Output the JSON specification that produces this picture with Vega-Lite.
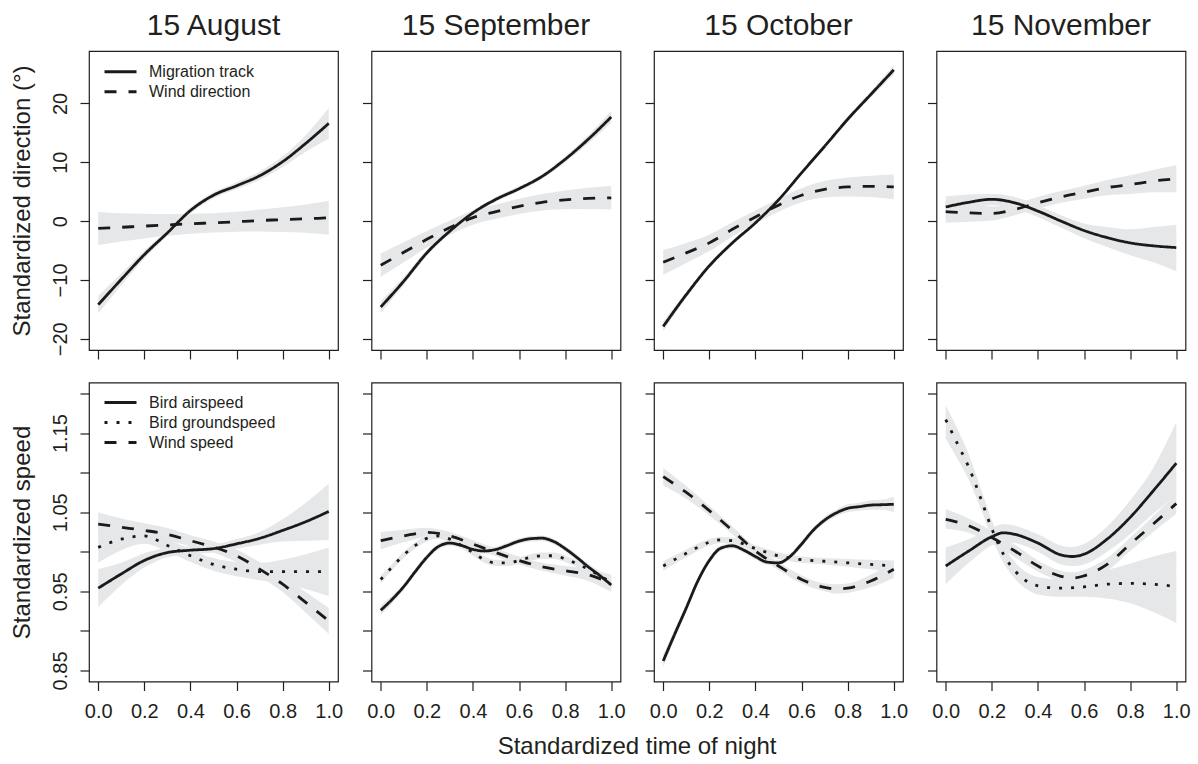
{
  "$schema": "https://vega.github.io/schema/vega-lite/v6.json",
  "padding": {"left": 9, "top": 10, "right": 5, "bottom": 5},
  "background": "white",
  "bounds": "flush",
  "columns": 4,
  "spacing": {"row": 32.5, "column": 33.5},
  "title": {"text": "Standardized time of night", "orient": "bottom", "anchor": "middle", "fontSize": 24, "fontWeight": "normal", "baseline": "alphabetic", "offset": 32, "dx": 37, "color": "#231f20"},
  "config": {
    "font": "Liberation Sans",
    "view": {"stroke": "#231f20", "strokeWidth": 1.2},
    "axis": {"domain": false, "grid": false, "tickSize": 9, "tickColor": "#231f20", "tickWidth": 1.2, "labelFontSize": 20, "labelColor": "#231f20", "titleFontSize": 24, "titleFontWeight": "normal", "titleColor": "#231f20", "labelFlush": false, "labelOverlap": false, "labelBound": false},
    "title": {"fontSize": 30, "fontWeight": "normal", "color": "#231f20"}
  },
  "resolve": {"scale": {"strokeDash": "independent", "x": "independent", "y": "independent"}, "legend": {"strokeDash": "independent"}},
  "datasets": {
    "dir": [
      {"p":"Aug","s":"Migration track","x":0,"y":-14.2,"lo":-15.7,"hi":-12.7},
      {"p":"Aug","s":"Migration track","x":0.1,"y":-9.9,"lo":-10.9,"hi":-8.9},
      {"p":"Aug","s":"Migration track","x":0.2,"y":-5.7,"lo":-6.4,"hi":-5.0},
      {"p":"Aug","s":"Migration track","x":0.3,"y":-2.0,"lo":-2.5,"hi":-1.5},
      {"p":"Aug","s":"Migration track","x":0.4,"y":1.8,"lo":1.3,"hi":2.3},
      {"p":"Aug","s":"Migration track","x":0.5,"y":4.4,"lo":3.9,"hi":4.9},
      {"p":"Aug","s":"Migration track","x":0.6,"y":6.0,"lo":5.4,"hi":6.6},
      {"p":"Aug","s":"Migration track","x":0.7,"y":7.7,"lo":7.0,"hi":8.4},
      {"p":"Aug","s":"Migration track","x":0.8,"y":10.1,"lo":9.2,"hi":11.0},
      {"p":"Aug","s":"Migration track","x":0.9,"y":13.2,"lo":11.8,"hi":14.6},
      {"p":"Aug","s":"Migration track","x":1.0,"y":16.6,"lo":14.0,"hi":19.2},
      {"p":"Aug","s":"Wind direction","x":0,"y":-1.25,"lo":-4.05,"hi":1.55},
      {"p":"Aug","s":"Wind direction","x":0.1,"y":-1.05,"lo":-3.45,"hi":1.35},
      {"p":"Aug","s":"Wind direction","x":0.2,"y":-0.85,"lo":-2.95,"hi":1.25},
      {"p":"Aug","s":"Wind direction","x":0.3,"y":-0.65,"lo":-2.5,"hi":1.2},
      {"p":"Aug","s":"Wind direction","x":0.4,"y":-0.45,"lo":-2.15,"hi":1.25},
      {"p":"Aug","s":"Wind direction","x":0.5,"y":-0.3,"lo":-1.95,"hi":1.35},
      {"p":"Aug","s":"Wind direction","x":0.6,"y":-0.1,"lo":-1.8,"hi":1.6},
      {"p":"Aug","s":"Wind direction","x":0.7,"y":0.1,"lo":-1.75,"hi":1.95},
      {"p":"Aug","s":"Wind direction","x":0.8,"y":0.25,"lo":-1.85,"hi":2.35},
      {"p":"Aug","s":"Wind direction","x":0.9,"y":0.4,"lo":-2.0,"hi":2.8},
      {"p":"Aug","s":"Wind direction","x":1.0,"y":0.55,"lo":-2.3,"hi":3.4},
      {"p":"Sep","s":"Migration track","x":0,"y":-14.6,"lo":-15.6,"hi":-13.6},
      {"p":"Sep","s":"Migration track","x":0.1,"y":-10.2,"lo":-10.9,"hi":-9.5},
      {"p":"Sep","s":"Migration track","x":0.2,"y":-5.4,"lo":-5.9,"hi":-4.9},
      {"p":"Sep","s":"Migration track","x":0.3,"y":-1.7,"lo":-2.1,"hi":-1.3},
      {"p":"Sep","s":"Migration track","x":0.4,"y":1.4,"lo":1.0,"hi":1.8},
      {"p":"Sep","s":"Migration track","x":0.5,"y":3.7,"lo":3.3,"hi":4.1},
      {"p":"Sep","s":"Migration track","x":0.6,"y":5.5,"lo":5.1,"hi":5.9},
      {"p":"Sep","s":"Migration track","x":0.7,"y":7.6,"lo":7.2,"hi":8.0},
      {"p":"Sep","s":"Migration track","x":0.8,"y":10.5,"lo":10.0,"hi":11.0},
      {"p":"Sep","s":"Migration track","x":0.9,"y":13.9,"lo":13.2,"hi":14.6},
      {"p":"Sep","s":"Migration track","x":1.0,"y":17.7,"lo":16.7,"hi":18.7},
      {"p":"Sep","s":"Wind direction","x":0,"y":-7.5,"lo":-9.5,"hi":-5.5},
      {"p":"Sep","s":"Wind direction","x":0.1,"y":-5.3,"lo":-7.0,"hi":-3.6},
      {"p":"Sep","s":"Wind direction","x":0.2,"y":-3.1,"lo":-4.5,"hi":-1.7},
      {"p":"Sep","s":"Wind direction","x":0.3,"y":-1.1,"lo":-2.3,"hi":0.1},
      {"p":"Sep","s":"Wind direction","x":0.4,"y":0.6,"lo":-0.6,"hi":1.8},
      {"p":"Sep","s":"Wind direction","x":0.5,"y":1.6,"lo":0.4,"hi":2.8},
      {"p":"Sep","s":"Wind direction","x":0.6,"y":2.5,"lo":1.2,"hi":3.8},
      {"p":"Sep","s":"Wind direction","x":0.7,"y":3.2,"lo":1.8,"hi":4.6},
      {"p":"Sep","s":"Wind direction","x":0.8,"y":3.6,"lo":2.0,"hi":5.2},
      {"p":"Sep","s":"Wind direction","x":0.9,"y":3.85,"lo":2.05,"hi":5.65},
      {"p":"Sep","s":"Wind direction","x":1.0,"y":3.95,"lo":1.95,"hi":5.95},
      {"p":"Oct","s":"Migration track","x":0,"y":-17.9,"lo":-18.7,"hi":-17.1},
      {"p":"Oct","s":"Migration track","x":0.1,"y":-12.5,"lo":-13.0,"hi":-12.0},
      {"p":"Oct","s":"Migration track","x":0.2,"y":-7.6,"lo":-8.0,"hi":-7.2},
      {"p":"Oct","s":"Migration track","x":0.3,"y":-3.7,"lo":-4.0,"hi":-3.4},
      {"p":"Oct","s":"Migration track","x":0.4,"y":-0.3,"lo":-0.6,"hi":0.0},
      {"p":"Oct","s":"Migration track","x":0.5,"y":3.6,"lo":3.3,"hi":3.9},
      {"p":"Oct","s":"Migration track","x":0.6,"y":8.2,"lo":7.9,"hi":8.5},
      {"p":"Oct","s":"Migration track","x":0.7,"y":12.7,"lo":12.4,"hi":13.0},
      {"p":"Oct","s":"Migration track","x":0.8,"y":17.3,"lo":16.9,"hi":17.7},
      {"p":"Oct","s":"Migration track","x":0.9,"y":21.5,"lo":21.0,"hi":22.0},
      {"p":"Oct","s":"Migration track","x":1.0,"y":25.7,"lo":24.9,"hi":26.5},
      {"p":"Oct","s":"Wind direction","x":0,"y":-7.0,"lo":-9.1,"hi":-4.9},
      {"p":"Oct","s":"Wind direction","x":0.1,"y":-5.4,"lo":-7.1,"hi":-3.7},
      {"p":"Oct","s":"Wind direction","x":0.2,"y":-3.7,"lo":-5.1,"hi":-2.3},
      {"p":"Oct","s":"Wind direction","x":0.3,"y":-1.4,"lo":-2.6,"hi":-0.2},
      {"p":"Oct","s":"Wind direction","x":0.4,"y":0.7,"lo":-0.4,"hi":1.8},
      {"p":"Oct","s":"Wind direction","x":0.5,"y":2.7,"lo":1.6,"hi":3.8},
      {"p":"Oct","s":"Wind direction","x":0.6,"y":4.4,"lo":3.2,"hi":5.6},
      {"p":"Oct","s":"Wind direction","x":0.7,"y":5.4,"lo":4.0,"hi":6.8},
      {"p":"Oct","s":"Wind direction","x":0.8,"y":5.8,"lo":4.2,"hi":7.4},
      {"p":"Oct","s":"Wind direction","x":0.9,"y":5.9,"lo":4.1,"hi":7.7},
      {"p":"Oct","s":"Wind direction","x":1.0,"y":5.8,"lo":3.7,"hi":7.9},
      {"p":"Nov","s":"Migration track","x":0,"y":2.4,"lo":0.6,"hi":4.2},
      {"p":"Nov","s":"Migration track","x":0.1,"y":3.2,"lo":1.8,"hi":4.5},
      {"p":"Nov","s":"Migration track","x":0.2,"y":3.7,"lo":2.7,"hi":4.6},
      {"p":"Nov","s":"Migration track","x":0.3,"y":3.1,"lo":2.1,"hi":4.1},
      {"p":"Nov","s":"Migration track","x":0.4,"y":1.7,"lo":0.7,"hi":2.7},
      {"p":"Nov","s":"Migration track","x":0.5,"y":0.0,"lo":-1.1,"hi":1.0},
      {"p":"Nov","s":"Migration track","x":0.6,"y":-1.6,"lo":-2.9,"hi":-0.4},
      {"p":"Nov","s":"Migration track","x":0.7,"y":-2.8,"lo":-4.4,"hi":-1.0},
      {"p":"Nov","s":"Migration track","x":0.8,"y":-3.7,"lo":-5.8,"hi":-1.4},
      {"p":"Nov","s":"Migration track","x":0.9,"y":-4.2,"lo":-7.0,"hi":-1.0},
      {"p":"Nov","s":"Migration track","x":1.0,"y":-4.5,"lo":-8.5,"hi":-0.6},
      {"p":"Nov","s":"Wind direction","x":0,"y":1.6,"lo":-0.3,"hi":3.5},
      {"p":"Nov","s":"Wind direction","x":0.1,"y":1.4,"lo":-0.1,"hi":2.9},
      {"p":"Nov","s":"Wind direction","x":0.2,"y":1.3,"lo":0.1,"hi":2.5},
      {"p":"Nov","s":"Wind direction","x":0.3,"y":2.0,"lo":1.0,"hi":3.0},
      {"p":"Nov","s":"Wind direction","x":0.4,"y":3.1,"lo":2.1,"hi":4.1},
      {"p":"Nov","s":"Wind direction","x":0.5,"y":4.1,"lo":3.1,"hi":5.1},
      {"p":"Nov","s":"Wind direction","x":0.6,"y":4.9,"lo":3.8,"hi":6.0},
      {"p":"Nov","s":"Wind direction","x":0.7,"y":5.7,"lo":4.4,"hi":7.0},
      {"p":"Nov","s":"Wind direction","x":0.8,"y":6.2,"lo":4.6,"hi":7.8},
      {"p":"Nov","s":"Wind direction","x":0.9,"y":6.8,"lo":4.9,"hi":8.7},
      {"p":"Nov","s":"Wind direction","x":1.0,"y":7.2,"lo":4.9,"hi":9.5}
    ],
    "spd": [
      {"p":"Aug","s":"Bird airspeed","x":0,"y":0.954,"lo":0.930,"hi":0.978},
      {"p":"Aug","s":"Bird airspeed","x":0.1,"y":0.972,"lo":0.958,"hi":0.986},
      {"p":"Aug","s":"Bird airspeed","x":0.2,"y":0.989,"lo":0.980,"hi":0.998},
      {"p":"Aug","s":"Bird airspeed","x":0.3,"y":0.999,"lo":0.993,"hi":1.005},
      {"p":"Aug","s":"Bird airspeed","x":0.4,"y":1.002,"lo":0.997,"hi":1.007},
      {"p":"Aug","s":"Bird airspeed","x":0.5,"y":1.004,"lo":0.999,"hi":1.009},
      {"p":"Aug","s":"Bird airspeed","x":0.6,"y":1.010,"lo":1.004,"hi":1.016},
      {"p":"Aug","s":"Bird airspeed","x":0.7,"y":1.017,"lo":1.009,"hi":1.025},
      {"p":"Aug","s":"Bird airspeed","x":0.8,"y":1.027,"lo":1.013,"hi":1.041},
      {"p":"Aug","s":"Bird airspeed","x":0.9,"y":1.038,"lo":1.014,"hi":1.062},
      {"p":"Aug","s":"Bird airspeed","x":1.0,"y":1.051,"lo":1.015,"hi":1.086},
      {"p":"Aug","s":"Bird groundspeed","x":0,"y":1.0055,"lo":0.986,"hi":1.027},
      {"p":"Aug","s":"Bird groundspeed","x":0.1,"y":1.016,"lo":1.002,"hi":1.030},
      {"p":"Aug","s":"Bird groundspeed","x":0.2,"y":1.020,"lo":1.010,"hi":1.030},
      {"p":"Aug","s":"Bird groundspeed","x":0.3,"y":1.008,"lo":1.000,"hi":1.016},
      {"p":"Aug","s":"Bird groundspeed","x":0.4,"y":0.995,"lo":0.987,"hi":1.003},
      {"p":"Aug","s":"Bird groundspeed","x":0.5,"y":0.984,"lo":0.976,"hi":0.992},
      {"p":"Aug","s":"Bird groundspeed","x":0.6,"y":0.978,"lo":0.969,"hi":0.987},
      {"p":"Aug","s":"Bird groundspeed","x":0.7,"y":0.975,"lo":0.964,"hi":0.986},
      {"p":"Aug","s":"Bird groundspeed","x":0.8,"y":0.975,"lo":0.960,"hi":0.990},
      {"p":"Aug","s":"Bird groundspeed","x":0.9,"y":0.975,"lo":0.953,"hi":0.997},
      {"p":"Aug","s":"Bird groundspeed","x":1.0,"y":0.975,"lo":0.944,"hi":1.005},
      {"p":"Aug","s":"Wind speed","x":0,"y":1.035,"lo":1.020,"hi":1.050},
      {"p":"Aug","s":"Wind speed","x":0.1,"y":1.031,"lo":1.020,"hi":1.042},
      {"p":"Aug","s":"Wind speed","x":0.2,"y":1.027,"lo":1.018,"hi":1.036},
      {"p":"Aug","s":"Wind speed","x":0.3,"y":1.022,"lo":1.014,"hi":1.030},
      {"p":"Aug","s":"Wind speed","x":0.4,"y":1.014,"lo":1.007,"hi":1.021},
      {"p":"Aug","s":"Wind speed","x":0.5,"y":1.006,"lo":0.999,"hi":1.013},
      {"p":"Aug","s":"Wind speed","x":0.6,"y":0.995,"lo":0.987,"hi":1.003},
      {"p":"Aug","s":"Wind speed","x":0.7,"y":0.978,"lo":0.969,"hi":0.987},
      {"p":"Aug","s":"Wind speed","x":0.8,"y":0.959,"lo":0.949,"hi":0.969},
      {"p":"Aug","s":"Wind speed","x":0.9,"y":0.936,"lo":0.923,"hi":0.949},
      {"p":"Aug","s":"Wind speed","x":1.0,"y":0.9125,"lo":0.896,"hi":0.929},
      {"p":"Sep","s":"Bird airspeed","x":0,"y":0.926,"lo":0.920,"hi":0.932},
      {"p":"Sep","s":"Bird airspeed","x":0.05,"y":0.940,"lo":0.935,"hi":0.945},
      {"p":"Sep","s":"Bird airspeed","x":0.1,"y":0.956,"lo":0.952,"hi":0.960},
      {"p":"Sep","s":"Bird airspeed","x":0.15,"y":0.975,"lo":0.971,"hi":0.979},
      {"p":"Sep","s":"Bird airspeed","x":0.2,"y":0.993,"lo":0.989,"hi":0.997},
      {"p":"Sep","s":"Bird airspeed","x":0.25,"y":1.0066,"lo":1.003,"hi":1.010},
      {"p":"Sep","s":"Bird airspeed","x":0.3,"y":1.011,"lo":1.0075,"hi":1.0145},
      {"p":"Sep","s":"Bird airspeed","x":0.35,"y":1.008,"lo":1.0045,"hi":1.0115},
      {"p":"Sep","s":"Bird airspeed","x":0.4,"y":1.003,"lo":0.9995,"hi":1.0065},
      {"p":"Sep","s":"Bird airspeed","x":0.45,"y":1.001,"lo":0.9975,"hi":1.0045},
      {"p":"Sep","s":"Bird airspeed","x":0.5,"y":1.003,"lo":0.9995,"hi":1.0065},
      {"p":"Sep","s":"Bird airspeed","x":0.55,"y":1.008,"lo":1.0045,"hi":1.0115},
      {"p":"Sep","s":"Bird airspeed","x":0.6,"y":1.0135,"lo":1.010,"hi":1.017},
      {"p":"Sep","s":"Bird airspeed","x":0.65,"y":1.0165,"lo":1.013,"hi":1.020},
      {"p":"Sep","s":"Bird airspeed","x":0.7,"y":1.0172,"lo":1.0137,"hi":1.0207},
      {"p":"Sep","s":"Bird airspeed","x":0.75,"y":1.013,"lo":1.0095,"hi":1.0165},
      {"p":"Sep","s":"Bird airspeed","x":0.8,"y":1.004,"lo":1.0005,"hi":1.0075},
      {"p":"Sep","s":"Bird airspeed","x":0.85,"y":0.993,"lo":0.989,"hi":0.997},
      {"p":"Sep","s":"Bird airspeed","x":0.9,"y":0.981,"lo":0.977,"hi":0.985},
      {"p":"Sep","s":"Bird airspeed","x":0.95,"y":0.970,"lo":0.965,"hi":0.975},
      {"p":"Sep","s":"Bird airspeed","x":1.0,"y":0.958,"lo":0.952,"hi":0.964},
      {"p":"Sep","s":"Bird groundspeed","x":0,"y":0.965,"lo":0.960,"hi":0.970},
      {"p":"Sep","s":"Bird groundspeed","x":0.05,"y":0.981,"lo":0.977,"hi":0.985},
      {"p":"Sep","s":"Bird groundspeed","x":0.1,"y":0.996,"lo":0.992,"hi":1.000},
      {"p":"Sep","s":"Bird groundspeed","x":0.15,"y":1.008,"lo":1.004,"hi":1.012},
      {"p":"Sep","s":"Bird groundspeed","x":0.2,"y":1.017,"lo":1.013,"hi":1.021},
      {"p":"Sep","s":"Bird groundspeed","x":0.25,"y":1.020,"lo":1.016,"hi":1.024},
      {"p":"Sep","s":"Bird groundspeed","x":0.3,"y":1.016,"lo":1.012,"hi":1.020},
      {"p":"Sep","s":"Bird groundspeed","x":0.35,"y":1.008,"lo":1.004,"hi":1.012},
      {"p":"Sep","s":"Bird groundspeed","x":0.4,"y":0.999,"lo":0.995,"hi":1.003},
      {"p":"Sep","s":"Bird groundspeed","x":0.45,"y":0.990,"lo":0.986,"hi":0.994},
      {"p":"Sep","s":"Bird groundspeed","x":0.5,"y":0.986,"lo":0.982,"hi":0.990},
      {"p":"Sep","s":"Bird groundspeed","x":0.55,"y":0.986,"lo":0.982,"hi":0.990},
      {"p":"Sep","s":"Bird groundspeed","x":0.6,"y":0.989,"lo":0.985,"hi":0.993},
      {"p":"Sep","s":"Bird groundspeed","x":0.65,"y":0.993,"lo":0.989,"hi":0.997},
      {"p":"Sep","s":"Bird groundspeed","x":0.7,"y":0.995,"lo":0.991,"hi":0.999},
      {"p":"Sep","s":"Bird groundspeed","x":0.75,"y":0.995,"lo":0.991,"hi":0.999},
      {"p":"Sep","s":"Bird groundspeed","x":0.8,"y":0.991,"lo":0.987,"hi":0.995},
      {"p":"Sep","s":"Bird groundspeed","x":0.85,"y":0.985,"lo":0.981,"hi":0.989},
      {"p":"Sep","s":"Bird groundspeed","x":0.9,"y":0.978,"lo":0.974,"hi":0.982},
      {"p":"Sep","s":"Bird groundspeed","x":0.95,"y":0.970,"lo":0.966,"hi":0.974},
      {"p":"Sep","s":"Bird groundspeed","x":1.0,"y":0.961,"lo":0.955,"hi":0.967},
      {"p":"Sep","s":"Wind speed","x":0,"y":1.014,"lo":1.003,"hi":1.025},
      {"p":"Sep","s":"Wind speed","x":0.1,"y":1.020,"lo":1.012,"hi":1.028},
      {"p":"Sep","s":"Wind speed","x":0.2,"y":1.0245,"lo":1.0185,"hi":1.0305},
      {"p":"Sep","s":"Wind speed","x":0.3,"y":1.020,"lo":1.015,"hi":1.025},
      {"p":"Sep","s":"Wind speed","x":0.4,"y":1.0097,"lo":1.0047,"hi":1.0147},
      {"p":"Sep","s":"Wind speed","x":0.5,"y":0.999,"lo":0.994,"hi":1.004},
      {"p":"Sep","s":"Wind speed","x":0.6,"y":0.989,"lo":0.984,"hi":0.994},
      {"p":"Sep","s":"Wind speed","x":0.7,"y":0.981,"lo":0.976,"hi":0.986},
      {"p":"Sep","s":"Wind speed","x":0.8,"y":0.976,"lo":0.970,"hi":0.982},
      {"p":"Sep","s":"Wind speed","x":0.9,"y":0.971,"lo":0.963,"hi":0.979},
      {"p":"Sep","s":"Wind speed","x":1.0,"y":0.960,"lo":0.949,"hi":0.971},
      {"p":"Oct","s":"Bird airspeed","x":0,"y":0.862,"lo":0.854,"hi":0.870},
      {"p":"Oct","s":"Bird airspeed","x":0.05,"y":0.896,"lo":0.890,"hi":0.902},
      {"p":"Oct","s":"Bird airspeed","x":0.1,"y":0.929,"lo":0.924,"hi":0.934},
      {"p":"Oct","s":"Bird airspeed","x":0.15,"y":0.963,"lo":0.959,"hi":0.967},
      {"p":"Oct","s":"Bird airspeed","x":0.2,"y":0.989,"lo":0.985,"hi":0.993},
      {"p":"Oct","s":"Bird airspeed","x":0.25,"y":1.0046,"lo":1.001,"hi":1.008},
      {"p":"Oct","s":"Bird airspeed","x":0.3,"y":1.0076,"lo":1.004,"hi":1.011},
      {"p":"Oct","s":"Bird airspeed","x":0.35,"y":1.002,"lo":0.9985,"hi":1.0055},
      {"p":"Oct","s":"Bird airspeed","x":0.4,"y":0.994,"lo":0.9905,"hi":0.9975},
      {"p":"Oct","s":"Bird airspeed","x":0.45,"y":0.987,"lo":0.9835,"hi":0.9905},
      {"p":"Oct","s":"Bird airspeed","x":0.5,"y":0.986,"lo":0.9825,"hi":0.9895},
      {"p":"Oct","s":"Bird airspeed","x":0.55,"y":0.994,"lo":0.9905,"hi":0.9975},
      {"p":"Oct","s":"Bird airspeed","x":0.6,"y":1.0097,"lo":1.006,"hi":1.0135},
      {"p":"Oct","s":"Bird airspeed","x":0.65,"y":1.027,"lo":1.023,"hi":1.031},
      {"p":"Oct","s":"Bird airspeed","x":0.7,"y":1.040,"lo":1.036,"hi":1.044},
      {"p":"Oct","s":"Bird airspeed","x":0.75,"y":1.049,"lo":1.045,"hi":1.053},
      {"p":"Oct","s":"Bird airspeed","x":0.8,"y":1.055,"lo":1.050,"hi":1.060},
      {"p":"Oct","s":"Bird airspeed","x":0.85,"y":1.057,"lo":1.052,"hi":1.062},
      {"p":"Oct","s":"Bird airspeed","x":0.9,"y":1.059,"lo":1.053,"hi":1.065},
      {"p":"Oct","s":"Bird airspeed","x":0.95,"y":1.0595,"lo":1.053,"hi":1.066},
      {"p":"Oct","s":"Bird airspeed","x":1.0,"y":1.060,"lo":1.050,"hi":1.070},
      {"p":"Oct","s":"Bird groundspeed","x":0,"y":0.982,"lo":0.976,"hi":0.988},
      {"p":"Oct","s":"Bird groundspeed","x":0.1,"y":0.998,"lo":0.993,"hi":1.003},
      {"p":"Oct","s":"Bird groundspeed","x":0.2,"y":1.012,"lo":1.008,"hi":1.016},
      {"p":"Oct","s":"Bird groundspeed","x":0.25,"y":1.015,"lo":1.011,"hi":1.019},
      {"p":"Oct","s":"Bird groundspeed","x":0.3,"y":1.014,"lo":1.010,"hi":1.018},
      {"p":"Oct","s":"Bird groundspeed","x":0.4,"y":1.004,"lo":1.000,"hi":1.008},
      {"p":"Oct","s":"Bird groundspeed","x":0.5,"y":0.995,"lo":0.991,"hi":0.999},
      {"p":"Oct","s":"Bird groundspeed","x":0.6,"y":0.990,"lo":0.986,"hi":0.994},
      {"p":"Oct","s":"Bird groundspeed","x":0.7,"y":0.988,"lo":0.984,"hi":0.992},
      {"p":"Oct","s":"Bird groundspeed","x":0.8,"y":0.986,"lo":0.981,"hi":0.991},
      {"p":"Oct","s":"Bird groundspeed","x":0.9,"y":0.984,"lo":0.978,"hi":0.990},
      {"p":"Oct","s":"Bird groundspeed","x":1.0,"y":0.982,"lo":0.975,"hi":0.989},
      {"p":"Oct","s":"Wind speed","x":0,"y":1.095,"lo":1.084,"hi":1.106},
      {"p":"Oct","s":"Wind speed","x":0.1,"y":1.075,"lo":1.067,"hi":1.083},
      {"p":"Oct","s":"Wind speed","x":0.2,"y":1.052,"lo":1.046,"hi":1.058},
      {"p":"Oct","s":"Wind speed","x":0.3,"y":1.027,"lo":1.022,"hi":1.032},
      {"p":"Oct","s":"Wind speed","x":0.4,"y":1.001,"lo":0.996,"hi":1.006},
      {"p":"Oct","s":"Wind speed","x":0.5,"y":0.982,"lo":0.977,"hi":0.987},
      {"p":"Oct","s":"Wind speed","x":0.6,"y":0.965,"lo":0.960,"hi":0.970},
      {"p":"Oct","s":"Wind speed","x":0.7,"y":0.955,"lo":0.950,"hi":0.960},
      {"p":"Oct","s":"Wind speed","x":0.75,"y":0.953,"lo":0.947,"hi":0.959},
      {"p":"Oct","s":"Wind speed","x":0.8,"y":0.954,"lo":0.948,"hi":0.960},
      {"p":"Oct","s":"Wind speed","x":0.9,"y":0.963,"lo":0.955,"hi":0.971},
      {"p":"Oct","s":"Wind speed","x":1.0,"y":0.978,"lo":0.967,"hi":0.989},
      {"p":"Nov","s":"Bird airspeed","x":0,"y":0.982,"lo":0.959,"hi":1.0055},
      {"p":"Nov","s":"Bird airspeed","x":0.1,"y":1.001,"lo":0.986,"hi":1.016},
      {"p":"Nov","s":"Bird airspeed","x":0.2,"y":1.019,"lo":1.008,"hi":1.030},
      {"p":"Nov","s":"Bird airspeed","x":0.25,"y":1.024,"lo":1.013,"hi":1.035},
      {"p":"Nov","s":"Bird airspeed","x":0.3,"y":1.022,"lo":1.011,"hi":1.033},
      {"p":"Nov","s":"Bird airspeed","x":0.4,"y":1.011,"lo":1.000,"hi":1.022},
      {"p":"Nov","s":"Bird airspeed","x":0.5,"y":0.996,"lo":0.984,"hi":1.008},
      {"p":"Nov","s":"Bird airspeed","x":0.55,"y":0.994,"lo":0.982,"hi":1.006},
      {"p":"Nov","s":"Bird airspeed","x":0.6,"y":0.997,"lo":0.984,"hi":1.010},
      {"p":"Nov","s":"Bird airspeed","x":0.7,"y":1.016,"lo":1.000,"hi":1.032},
      {"p":"Nov","s":"Bird airspeed","x":0.8,"y":1.0435,"lo":1.022,"hi":1.065},
      {"p":"Nov","s":"Bird airspeed","x":0.9,"y":1.077,"lo":1.048,"hi":1.106},
      {"p":"Nov","s":"Bird airspeed","x":1.0,"y":1.112,"lo":1.071,"hi":1.164},
      {"p":"Nov","s":"Bird groundspeed","x":0,"y":1.167,"lo":1.143,"hi":1.185},
      {"p":"Nov","s":"Bird groundspeed","x":0.05,"y":1.137,"lo":1.118,"hi":1.156},
      {"p":"Nov","s":"Bird groundspeed","x":0.1,"y":1.107,"lo":1.091,"hi":1.123},
      {"p":"Nov","s":"Bird groundspeed","x":0.15,"y":1.069,"lo":1.056,"hi":1.082},
      {"p":"Nov","s":"Bird groundspeed","x":0.2,"y":1.029,"lo":1.018,"hi":1.040},
      {"p":"Nov","s":"Bird groundspeed","x":0.25,"y":0.997,"lo":0.986,"hi":1.008},
      {"p":"Nov","s":"Bird groundspeed","x":0.3,"y":0.976,"lo":0.966,"hi":0.987},
      {"p":"Nov","s":"Bird groundspeed","x":0.35,"y":0.963,"lo":0.953,"hi":0.974},
      {"p":"Nov","s":"Bird groundspeed","x":0.4,"y":0.957,"lo":0.946,"hi":0.968},
      {"p":"Nov","s":"Bird groundspeed","x":0.5,"y":0.954,"lo":0.943,"hi":0.965},
      {"p":"Nov","s":"Bird groundspeed","x":0.6,"y":0.9556,"lo":0.943,"hi":0.968},
      {"p":"Nov","s":"Bird groundspeed","x":0.7,"y":0.959,"lo":0.941,"hi":0.977},
      {"p":"Nov","s":"Bird groundspeed","x":0.8,"y":0.960,"lo":0.935,"hi":0.985},
      {"p":"Nov","s":"Bird groundspeed","x":0.9,"y":0.959,"lo":0.924,"hi":0.994},
      {"p":"Nov","s":"Bird groundspeed","x":1.0,"y":0.956,"lo":0.910,"hi":1.001},
      {"p":"Nov","s":"Wind speed","x":0,"y":1.041,"lo":1.029,"hi":1.054},
      {"p":"Nov","s":"Wind speed","x":0.1,"y":1.033,"lo":1.024,"hi":1.042},
      {"p":"Nov","s":"Wind speed","x":0.2,"y":1.018,"lo":1.010,"hi":1.026},
      {"p":"Nov","s":"Wind speed","x":0.3,"y":1.001,"lo":0.993,"hi":1.009},
      {"p":"Nov","s":"Wind speed","x":0.4,"y":0.982,"lo":0.975,"hi":0.989},
      {"p":"Nov","s":"Wind speed","x":0.5,"y":0.969,"lo":0.962,"hi":0.976},
      {"p":"Nov","s":"Wind speed","x":0.55,"y":0.9666,"lo":0.959,"hi":0.974},
      {"p":"Nov","s":"Wind speed","x":0.6,"y":0.9696,"lo":0.962,"hi":0.977},
      {"p":"Nov","s":"Wind speed","x":0.7,"y":0.984,"lo":0.976,"hi":0.992},
      {"p":"Nov","s":"Wind speed","x":0.8,"y":1.0097,"lo":1.001,"hi":1.018},
      {"p":"Nov","s":"Wind speed","x":0.9,"y":1.035,"lo":1.025,"hi":1.045},
      {"p":"Nov","s":"Wind speed","x":1.0,"y":1.061,"lo":1.048,"hi":1.073}
    ]
  },
  "concat": [
    {
      "width": 249, "height": 299,
      "title": {"text": "15 August", "baseline": "alphabetic", "offset": -14, "frame": "group", "anchor": "middle"},
      "data": {"name": "dir"},
      "transform": [{"filter": "datum.p == 'Aug'"}],
      "encoding": {"x": {"field": "x", "type": "quantitative", "scale": {"domain": [-0.04, 1.04], "nice": false, "zero": false}, "axis": {"values": [0, 0.2, 0.4, 0.6, 0.8, 1], "labels": false, "title": null}}},
      "layer": [
        {"mark": {"type": "area", "color": "#e6e7e8", "interpolate": "monotone"},
         "encoding": {"y": {"field": "lo", "type": "quantitative", "scale": {"domain": [-21.9, 28.9], "nice": false, "zero": false}, "axis": {"values": [-20, -10, 0, 10, 20], "title": "Standardized direction (°)", "labelAngle": -90, "labelAlign": "center", "labelBaseline": "bottom", "labelPadding": 10, "titlePadding": 16}}, "y2": {"field": "hi"}, "detail": {"field": "s"}}},
        {"mark": {"type": "line", "color": "#1a1a1a", "strokeWidth": 2.8, "interpolate": "monotone"},
         "encoding": {"y": {"field": "y", "type": "quantitative", "scale": {"domain": [-21.9, 28.9], "nice": false, "zero": false}, "axis": {"values": [-20, -10, 0, 10, 20], "title": "Standardized direction (°)", "labelAngle": -90, "labelAlign": "center", "labelBaseline": "bottom", "labelPadding": 10, "titlePadding": 16}},
           "strokeDash": {"field": "s", "type": "nominal", "scale": {"domain": ["Migration track", "Wind direction"], "range": [[1, 0], [12, 12]]},
             "legend": {"title": null, "orient": "top-left", "offset": 11, "padding": 0, "symbolType": "stroke", "symbolSize": 1024, "symbolOffset": 3, "symbolStrokeWidth": 2.8, "symbolStrokeColor": "#1a1a1a", "labelFontSize": 16, "labelOffset": 11, "rowPadding": 0, "clipHeight": 19.5, "labelColor": "#231f20", "labelLimit": 300}}}}
      ]
    },
    {
      "width": 249, "height": 299,
      "title": {"text": "15 September", "baseline": "alphabetic", "offset": -14, "frame": "group", "anchor": "middle"},
      "data": {"name": "dir"},
      "transform": [{"filter": "datum.p == 'Sep'"}],
      "encoding": {"x": {"field": "x", "type": "quantitative", "scale": {"domain": [-0.04, 1.04], "nice": false, "zero": false}, "axis": {"values": [0, 0.2, 0.4, 0.6, 0.8, 1], "labels": false, "title": null}}},
      "layer": [
        {"mark": {"type": "area", "color": "#e6e7e8", "interpolate": "monotone"},
         "encoding": {"y": {"field": "lo", "type": "quantitative", "scale": {"domain": [-21.9, 28.9], "nice": false, "zero": false}, "axis": {"values": [-20, -10, 0, 10, 20], "labels": false, "title": null}}, "y2": {"field": "hi"}, "detail": {"field": "s"}}},
        {"mark": {"type": "line", "color": "#1a1a1a", "strokeWidth": 2.8, "interpolate": "monotone"},
         "encoding": {"y": {"field": "y", "type": "quantitative", "scale": {"domain": [-21.9, 28.9], "nice": false, "zero": false}, "axis": {"values": [-20, -10, 0, 10, 20], "labels": false, "title": null}},
           "strokeDash": {"field": "s", "type": "nominal", "scale": {"domain": ["Migration track", "Wind direction"], "range": [[1, 0], [12, 12]]}, "legend": null}}}
      ]
    },
    {
      "width": 249, "height": 299,
      "title": {"text": "15 October", "baseline": "alphabetic", "offset": -14, "frame": "group", "anchor": "middle"},
      "data": {"name": "dir"},
      "transform": [{"filter": "datum.p == 'Oct'"}],
      "encoding": {"x": {"field": "x", "type": "quantitative", "scale": {"domain": [-0.04, 1.04], "nice": false, "zero": false}, "axis": {"values": [0, 0.2, 0.4, 0.6, 0.8, 1], "labels": false, "title": null}}},
      "layer": [
        {"mark": {"type": "area", "color": "#e6e7e8", "interpolate": "monotone"},
         "encoding": {"y": {"field": "lo", "type": "quantitative", "scale": {"domain": [-21.9, 28.9], "nice": false, "zero": false}, "axis": {"values": [-20, -10, 0, 10, 20], "labels": false, "title": null}}, "y2": {"field": "hi"}, "detail": {"field": "s"}}},
        {"mark": {"type": "line", "color": "#1a1a1a", "strokeWidth": 2.8, "interpolate": "monotone"},
         "encoding": {"y": {"field": "y", "type": "quantitative", "scale": {"domain": [-21.9, 28.9], "nice": false, "zero": false}, "axis": {"values": [-20, -10, 0, 10, 20], "labels": false, "title": null}},
           "strokeDash": {"field": "s", "type": "nominal", "scale": {"domain": ["Migration track", "Wind direction"], "range": [[1, 0], [12, 12]]}, "legend": null}}}
      ]
    },
    {
      "width": 249, "height": 299,
      "title": {"text": "15 November", "baseline": "alphabetic", "offset": -14, "frame": "group", "anchor": "middle"},
      "data": {"name": "dir"},
      "transform": [{"filter": "datum.p == 'Nov'"}],
      "encoding": {"x": {"field": "x", "type": "quantitative", "scale": {"domain": [-0.04, 1.04], "nice": false, "zero": false}, "axis": {"values": [0, 0.2, 0.4, 0.6, 0.8, 1], "labels": false, "title": null}}},
      "layer": [
        {"mark": {"type": "area", "color": "#e6e7e8", "interpolate": "monotone"},
         "encoding": {"y": {"field": "lo", "type": "quantitative", "scale": {"domain": [-21.9, 28.9], "nice": false, "zero": false}, "axis": {"values": [-20, -10, 0, 10, 20], "labels": false, "title": null}}, "y2": {"field": "hi"}, "detail": {"field": "s"}}},
        {"mark": {"type": "line", "color": "#1a1a1a", "strokeWidth": 2.8, "interpolate": "monotone"},
         "encoding": {"y": {"field": "y", "type": "quantitative", "scale": {"domain": [-21.9, 28.9], "nice": false, "zero": false}, "axis": {"values": [-20, -10, 0, 10, 20], "labels": false, "title": null}},
           "strokeDash": {"field": "s", "type": "nominal", "scale": {"domain": ["Migration track", "Wind direction"], "range": [[1, 0], [12, 12]]}, "legend": null}}}
      ]
    },
    {
      "width": 249, "height": 299,
      "data": {"name": "spd"},
      "transform": [{"filter": "datum.p == 'Aug'"}],
      "encoding": {"x": {"field": "x", "type": "quantitative", "scale": {"domain": [-0.04, 1.04], "nice": false, "zero": false}, "axis": {"values": [0, 0.2, 0.4, 0.6, 0.8, 1], "format": ".1f", "title": null, "labelPadding": 11}}},
      "layer": [
        {"mark": {"type": "area", "color": "#e6e7e8", "interpolate": "monotone"},
         "encoding": {"y": {"field": "lo", "type": "quantitative", "scale": {"domain": [0.836, 1.214], "nice": false, "zero": false}, "axis": {"values": [0.85, 0.9, 0.95, 1, 1.05, 1.1, 1.15, 1.2], "labelExpr": "round(datum.value*100) % 10 == 5 ? format(datum.value, '.2f') : ''", "title": "Standardized speed", "labelAngle": -90, "labelAlign": "center", "labelBaseline": "bottom", "labelPadding": 10, "titlePadding": 16}}, "y2": {"field": "hi"}, "detail": {"field": "s"}}},
        {"mark": {"type": "line", "color": "#1a1a1a", "strokeWidth": 2.8, "interpolate": "monotone"},
         "encoding": {"y": {"field": "y", "type": "quantitative", "scale": {"domain": [0.836, 1.214], "nice": false, "zero": false}, "axis": {"values": [0.85, 0.9, 0.95, 1, 1.05, 1.1, 1.15, 1.2], "labelExpr": "round(datum.value*100) % 10 == 5 ? format(datum.value, '.2f') : ''", "title": "Standardized speed", "labelAngle": -90, "labelAlign": "center", "labelBaseline": "bottom", "labelPadding": 10, "titlePadding": 16}},
           "strokeDash": {"field": "s", "type": "nominal", "scale": {"domain": ["Bird airspeed", "Bird groundspeed", "Wind speed"], "range": [[1, 0], [3, 9], [12, 12]]},
             "legend": {"title": null, "orient": "top-left", "offset": 10, "padding": 0, "symbolType": "stroke", "symbolSize": 1024, "symbolOffset": 4, "symbolStrokeWidth": 2.8, "symbolStrokeColor": "#1a1a1a", "labelFontSize": 16, "labelOffset": 11, "rowPadding": 0, "clipHeight": 20, "labelColor": "#231f20", "labelLimit": 300}}}}
      ]
    },
    {
      "width": 249, "height": 299,
      "data": {"name": "spd"},
      "transform": [{"filter": "datum.p == 'Sep'"}],
      "encoding": {"x": {"field": "x", "type": "quantitative", "scale": {"domain": [-0.04, 1.04], "nice": false, "zero": false}, "axis": {"values": [0, 0.2, 0.4, 0.6, 0.8, 1], "format": ".1f", "title": null, "labelPadding": 11}}},
      "layer": [
        {"mark": {"type": "area", "color": "#e6e7e8", "interpolate": "monotone"},
         "encoding": {"y": {"field": "lo", "type": "quantitative", "scale": {"domain": [0.836, 1.214], "nice": false, "zero": false}, "axis": {"values": [0.85, 0.9, 0.95, 1, 1.05, 1.1, 1.15, 1.2], "labels": false, "title": null}}, "y2": {"field": "hi"}, "detail": {"field": "s"}}},
        {"mark": {"type": "line", "color": "#1a1a1a", "strokeWidth": 2.8, "interpolate": "monotone"},
         "encoding": {"y": {"field": "y", "type": "quantitative", "scale": {"domain": [0.836, 1.214], "nice": false, "zero": false}, "axis": {"values": [0.85, 0.9, 0.95, 1, 1.05, 1.1, 1.15, 1.2], "labels": false, "title": null}},
           "strokeDash": {"field": "s", "type": "nominal", "scale": {"domain": ["Bird airspeed", "Bird groundspeed", "Wind speed"], "range": [[1, 0], [3, 9], [12, 12]]}, "legend": null}}}
      ]
    },
    {
      "width": 249, "height": 299,
      "data": {"name": "spd"},
      "transform": [{"filter": "datum.p == 'Oct'"}],
      "encoding": {"x": {"field": "x", "type": "quantitative", "scale": {"domain": [-0.04, 1.04], "nice": false, "zero": false}, "axis": {"values": [0, 0.2, 0.4, 0.6, 0.8, 1], "format": ".1f", "title": null, "labelPadding": 11}}},
      "layer": [
        {"mark": {"type": "area", "color": "#e6e7e8", "interpolate": "monotone"},
         "encoding": {"y": {"field": "lo", "type": "quantitative", "scale": {"domain": [0.836, 1.214], "nice": false, "zero": false}, "axis": {"values": [0.85, 0.9, 0.95, 1, 1.05, 1.1, 1.15, 1.2], "labels": false, "title": null}}, "y2": {"field": "hi"}, "detail": {"field": "s"}}},
        {"mark": {"type": "line", "color": "#1a1a1a", "strokeWidth": 2.8, "interpolate": "monotone"},
         "encoding": {"y": {"field": "y", "type": "quantitative", "scale": {"domain": [0.836, 1.214], "nice": false, "zero": false}, "axis": {"values": [0.85, 0.9, 0.95, 1, 1.05, 1.1, 1.15, 1.2], "labels": false, "title": null}},
           "strokeDash": {"field": "s", "type": "nominal", "scale": {"domain": ["Bird airspeed", "Bird groundspeed", "Wind speed"], "range": [[1, 0], [3, 9], [12, 12]]}, "legend": null}}}
      ]
    },
    {
      "width": 249, "height": 299,
      "data": {"name": "spd"},
      "transform": [{"filter": "datum.p == 'Nov'"}],
      "encoding": {"x": {"field": "x", "type": "quantitative", "scale": {"domain": [-0.04, 1.04], "nice": false, "zero": false}, "axis": {"values": [0, 0.2, 0.4, 0.6, 0.8, 1], "format": ".1f", "title": null, "labelPadding": 11}}},
      "layer": [
        {"mark": {"type": "area", "color": "#e6e7e8", "interpolate": "monotone"},
         "encoding": {"y": {"field": "lo", "type": "quantitative", "scale": {"domain": [0.836, 1.214], "nice": false, "zero": false}, "axis": {"values": [0.85, 0.9, 0.95, 1, 1.05, 1.1, 1.15, 1.2], "labels": false, "title": null}}, "y2": {"field": "hi"}, "detail": {"field": "s"}}},
        {"mark": {"type": "line", "color": "#1a1a1a", "strokeWidth": 2.8, "interpolate": "monotone"},
         "encoding": {"y": {"field": "y", "type": "quantitative", "scale": {"domain": [0.836, 1.214], "nice": false, "zero": false}, "axis": {"values": [0.85, 0.9, 0.95, 1, 1.05, 1.1, 1.15, 1.2], "labels": false, "title": null}},
           "strokeDash": {"field": "s", "type": "nominal", "scale": {"domain": ["Bird airspeed", "Bird groundspeed", "Wind speed"], "range": [[1, 0], [3, 9], [12, 12]]}, "legend": null}}}
      ]
    }
  ]
}
